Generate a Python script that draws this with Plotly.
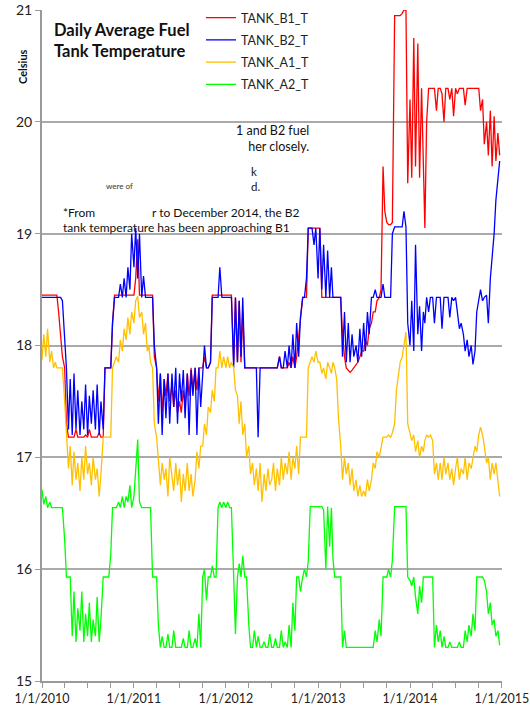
import plotly.graph_objects as go

# ---------------- data (4 readings per month: days 1, 8, 16, 23) ----------------
YEARS = [2010, 2011, 2012, 2013, 2014]
SAMPLE_DAYS = [1, 8, 16, 23]

TANK_B1_T = [
    # 2010
    18.45, 18.45, 18.45, 18.45,  18.45, 18.45, 18.45, 18.45,  18.45, 18.3, 18.1, 17.9,
    17.8, 17.3, 17.18, 17.18,  17.18, 17.18, 17.25, 17.18,  17.18, 17.18, 17.18, 17.2,
    17.18, 17.25, 17.18, 17.18,  17.18, 17.18, 17.22, 17.18,  17.18, 17.8, 17.8, 17.8,
    17.8, 18.2, 18.45, 18.45,  18.45, 18.45, 18.45, 18.45,  18.45, 18.45, 18.45, 18.45,
    # 2011
    18.45, 18.6, 18.95, 18.45,  18.45, 18.45, 18.45, 18.45,  18.45, 18.45, 18.45, 17.9,
    17.8, 17.5, 17.75, 17.4,  17.7, 17.55, 17.75, 17.5,  17.65, 17.45, 17.6, 17.4,
    17.5, 17.4, 17.6, 17.45,  17.75, 17.55, 17.8, 17.6,  17.8, 17.6, 17.8, 17.8,
    17.8, 17.9, 17.8, 17.8,  17.85, 18.45, 18.45, 18.45,  18.45, 18.45, 18.45, 18.45,
    # 2012
    18.45, 18.45, 18.45, 18.45,  17.85, 18.43, 17.85, 18.4,  17.85, 18.3, 17.8, 17.8,
    17.8, 17.8, 17.8, 17.8,  17.8, 17.8, 17.8, 17.8,  17.8, 17.8, 17.8, 17.8,
    17.8, 17.8, 17.8, 17.8,  17.9, 17.8, 17.8, 17.8,  17.8, 17.85, 17.8, 17.9,
    17.8, 17.9, 18.1, 18.25,  18.43, 18.43, 18.43, 19.05,  19.05, 19.05, 19.05, 19.05,
    # 2013
    19.05, 19.05, 18.43, 18.43,  18.43, 18.43, 18.43, 18.43,  18.43, 18.43, 18.43, 18.43,
    18.43, 18.1, 17.9, 17.8,  17.78, 17.76, 17.78, 17.8,  17.82, 17.85, 17.9, 17.95,
    17.95, 18.05, 18.0, 18.15,  18.2, 18.3, 18.3, 18.4,  18.43, 18.5, 19.6, 19.2,
    19.1, 19.08, 19.08, 19.1,  20.95, 20.95, 20.95, 20.95,  20.97, 21.0, 21.0, 19.45,
    # 2014
    20.2, 19.5, 20.75, 19.6,  20.7, 19.5, 20.3, 19.7,  19.05, 20.0, 20.3, 20.3,
    20.3, 20.3, 20.1, 20.3,  20.3, 20.25, 20.0, 20.3,  20.3, 20.2, 20.3, 20.05,
    20.3, 20.25, 20.3, 20.3,  20.3, 20.15, 20.3, 20.3,  20.3, 20.3, 20.3, 20.3,
    20.3, 20.1, 20.2, 19.8,  20.0, 19.7, 20.1, 19.6,  20.05, 19.65, 19.9, 19.7,
]

TANK_B2_T = [
    # 2010
    18.43, 18.43, 18.43, 18.43,  18.43, 18.43, 18.43, 18.43,  18.43, 18.43, 18.43, 18.4,
    18.1, 17.8, 17.25, 17.7,  17.2, 17.75, 17.25, 17.6,  17.2, 17.5, 17.25, 17.65,
    17.2, 17.55, 17.3, 17.6,  17.25, 17.65, 17.2, 17.5,  17.25, 17.8, 17.8, 17.8,
    17.8, 18.2, 18.43, 18.43,  18.43, 18.55, 18.43, 18.6,  18.43, 18.7, 18.5, 19.0,
    # 2011
    18.7, 19.05, 18.6, 19.0,  18.43, 18.62, 18.43, 18.43,  18.43, 18.43, 18.43, 18.0,
    17.8, 17.3, 17.75, 17.2,  17.7, 17.35, 17.75, 17.3,  17.75, 17.45, 17.8, 17.3,
    17.75, 17.5, 17.78, 17.35,  17.75, 17.2, 17.78, 17.55,  17.8, 17.2, 17.8, 17.45,
    17.8, 18.0, 17.8, 17.8,  17.85, 18.43, 18.43, 18.43,  18.43, 18.7, 18.43, 18.43,
    # 2012
    18.43, 18.43, 18.43, 18.43,  17.8, 18.43, 17.85, 18.4,  17.9, 18.43, 17.8, 17.8,
    17.8, 17.8, 17.8, 17.8,  17.8, 17.18, 17.8, 17.8,  17.8, 17.8, 17.8, 17.8,
    17.8, 17.8, 17.8, 17.8,  17.9, 17.8, 17.8, 17.95,  17.8, 18.0, 17.8, 18.1,
    17.8, 18.2, 17.9, 18.25,  18.43, 18.43, 18.6, 19.05,  19.05, 19.05, 18.9, 19.05,
    # 2013
    18.6, 19.05, 18.5, 18.9,  18.43, 18.85, 18.43, 18.7,  18.43, 18.43, 18.43, 18.43,
    18.43, 17.9, 18.3, 17.85,  18.2, 17.85, 18.1, 17.9,  18.0, 17.85, 18.15, 17.9,
    18.2, 17.95, 18.3, 18.1,  18.43, 18.43, 18.5, 18.43,  18.43, 18.43, 18.55, 18.43,
    18.43, 18.43, 18.43, 19.0,  19.06, 19.06, 19.06, 19.06,  19.06, 19.2, 19.06, 18.2,
    # 2014
    18.0, 18.4, 17.95, 18.9,  18.1, 18.35, 17.95, 18.3,  18.2, 18.43, 18.3, 18.43,
    18.43, 18.2, 18.43, 18.43,  18.43, 18.15, 18.43, 18.43,  18.43, 18.25, 18.43, 18.4,
    18.43, 18.3, 18.15, 18.2,  18.1, 17.95, 18.05, 17.9,  18.0, 17.83, 17.95, 18.3,
    18.43, 18.5, 18.4, 18.43,  18.45, 18.2, 18.6, 18.8,  19.0, 19.3, 19.5, 19.65,
]

TANK_A1_T = [
    # 2010
    17.87, 18.1, 17.9, 18.15,  17.85, 17.95, 17.8, 17.85,  17.8, 17.8, 17.8, 17.8,
    17.5, 17.18, 16.9, 17.1,  16.75, 17.05, 16.8, 16.95,  16.7, 17.0, 16.8, 17.1,
    16.85, 16.95, 16.75, 17.0,  16.8, 16.9, 16.65, 16.85,  17.18, 17.18, 17.18, 17.18,
    17.18, 17.8, 17.85, 17.9,  17.85, 18.05, 17.95, 18.15,  18.05, 18.25, 18.1, 18.3,
    # 2011
    18.2, 18.4, 18.44, 18.25,  18.3, 18.1, 18.2, 17.95,  18.0, 17.85, 17.8, 17.3,
    17.18, 17.0, 16.75, 16.95,  16.8, 16.9, 16.65, 17.0,  16.85, 16.7, 16.95, 16.75,
    16.9, 16.6, 16.85, 16.7,  16.95, 16.7, 16.85, 16.65,  16.8, 17.05, 16.9, 17.1,
    17.1, 17.3, 17.2, 17.45,  17.4, 17.6, 17.5, 17.8,  17.8, 17.95, 17.8, 17.9,
    # 2012
    17.8, 17.9, 17.8, 17.85,  17.8, 17.6, 17.55, 17.3,  17.5, 17.2, 17.3, 17.0,
    17.1, 16.85, 16.95, 16.75,  16.9, 16.7, 16.95, 16.6,  16.85, 16.7, 16.9, 16.75,
    16.8, 16.95, 16.7, 16.9,  16.75, 17.0, 16.8, 16.95,  16.85, 17.05, 16.8, 17.0,
    16.9, 17.1, 16.85, 17.18,  17.18, 17.18, 17.18, 17.8,  17.85, 17.9, 17.85, 17.95,
    # 2013
    17.85, 17.85, 17.75, 17.8,  17.7, 17.85, 17.8, 17.75,  17.85, 17.8, 17.7, 17.35,
    17.1, 16.8, 17.0, 16.85,  16.95, 16.75, 16.9, 16.7,  16.8, 16.65, 16.75, 16.65,
    16.7, 16.65, 16.8, 16.7,  16.8, 16.95, 16.9, 17.05,  17.0, 17.1, 17.18, 17.18,
    17.18, 17.2, 17.18, 17.22,  17.3, 17.6, 17.75, 17.85,  17.9, 18.0, 18.12, 17.3,
    # 2014
    17.2, 17.15, 17.2, 17.05,  17.15, 17.0, 17.1, 17.05,  17.15, 17.2, 17.18, 17.2,
    17.15, 16.85, 16.95, 16.8,  16.95, 16.8, 17.0, 16.85,  16.95, 16.8, 16.9, 16.75,
    16.9, 17.0, 16.8, 16.9,  16.85, 17.0, 16.8, 16.95,  16.9, 17.0, 17.1, 17.05,
    17.2, 17.27, 17.2, 17.1,  16.95, 17.0, 16.8, 16.95,  16.85, 16.95, 16.75, 16.65,
]

TANK_A2_T = [
    # 2010
    16.71, 16.58, 16.65, 16.55,  16.6, 16.55, 16.55, 16.55,  16.55, 16.55, 16.55, 16.55,
    16.26, 15.93, 15.93, 15.93,  15.4, 15.8, 15.35, 15.65,  15.45, 15.8, 15.35, 15.6,
    15.4, 15.7, 15.35, 15.55,  15.4, 15.75, 15.35, 15.55,  15.93, 15.93, 15.93, 15.93,
    16.13, 16.55, 16.55, 16.55,  16.6, 16.55, 16.65, 16.55,  16.65, 16.6, 16.75, 16.55,
    # 2011
    16.65, 16.9, 17.16, 16.6,  16.55, 16.55, 16.55, 16.55,  16.55, 16.55, 15.93, 15.93,
    15.93, 15.5, 15.3, 15.4,  15.3, 15.3, 15.42, 15.3,  15.3, 15.45, 15.3, 15.3,
    15.3, 15.3, 15.38, 15.3,  15.3, 15.45, 15.3, 15.3,  15.38, 15.3, 15.6, 15.3,
    15.93, 16.0, 15.72, 15.93,  15.93, 16.03, 15.93, 15.93,  16.55, 16.6, 16.55, 16.6,
    # 2012
    16.55, 16.6, 16.55, 16.55,  15.93, 15.42, 15.93, 16.05,  15.93, 16.12, 15.93, 15.93,
    15.5, 15.3, 15.3, 15.45,  15.3, 15.4, 15.3, 15.3,  15.35, 15.3, 15.3, 15.42,
    15.3, 15.3, 15.38, 15.3,  15.3, 15.45, 15.3, 15.35,  15.3, 15.5, 15.3, 15.7,
    15.45, 15.93, 15.93, 15.8,  15.93, 16.0, 15.93, 16.07,  16.56, 16.56, 16.56, 16.56,
    # 2013
    16.56, 16.56, 16.56, 16.53,  16.0, 16.56, 16.2, 16.55,  16.1, 15.93, 15.93, 15.93,
    15.93, 15.3, 15.45, 15.3,  15.3, 15.3, 15.3, 15.3,  15.3, 15.3, 15.3, 15.3,
    15.3, 15.3, 15.3, 15.3,  15.3, 15.3, 15.45, 15.35,  15.55, 15.4, 15.93, 15.93,
    15.93, 16.0, 15.93, 16.08,  16.56, 16.56, 16.56, 16.56,  16.56, 16.56, 16.56, 15.93,
    # 2014
    15.9, 15.85, 15.93, 15.75,  15.6, 15.85, 15.7, 15.93,  15.93, 15.93, 15.93, 15.93,
    15.93, 15.3, 15.5, 15.35,  15.45, 15.3, 15.4, 15.3,  15.3, 15.35, 15.3, 15.3,
    15.3, 15.3, 15.35, 15.3,  15.3, 15.45, 15.35, 15.5,  15.4, 15.6, 15.45, 15.93,
    15.93, 15.93, 15.93, 15.9,  15.8, 15.6, 15.7, 15.5,  15.55, 15.4, 15.45, 15.32,
]

SERIES_NAMES = ["TANK_B1_T", "TANK_B2_T", "TANK_A1_T", "TANK_A2_T"]
SERIES_VALUES = [TANK_B1_T, TANK_B2_T, TANK_A1_T, TANK_A2_T]
SERIES_COLORS = ["#ff0000", "#0000ff", "#ffc000", "#00ff00"]

dates = [f"{y}-{m:02d}-{d:02d}" for y in YEARS for m in range(1, 13) for d in SAMPLE_DAYS]

# ---------------- layout helpers (pixel -> paper) ----------------
W, H = 530, 709
ML, MR, MT, MB = 42, 28, 10, 28
PW, PH = W - ML - MR, H - MT - MB


def px(x):
    return (x - ML) / PW


def py(y):
    return (H - MB - y) / PH


FONT = "Lato, 'Open Sans', sans-serif"

fig = go.Figure()
for name, vals, col in zip(SERIES_NAMES, SERIES_VALUES, SERIES_COLORS):
    fig.add_trace(go.Scatter(x=dates, y=vals, mode="lines", name=name, legendgroup=name,
                             line=dict(color=col, width=1.3)))

annotations = [
    dict(text="<b>Daily Average Fuel<br>Tank Temperature</b>", x=px(53), y=py(19),
         xanchor="left", yanchor="top", align="left",
         font=dict(size=16.5, color="#111", family=FONT)),
    dict(text="<b>Celsius</b>", x=px(22), y=py(67), textangle=-90,
         xanchor="center", yanchor="middle",
         font=dict(size=11, color="#111", family=FONT)),
    dict(text="1 and B2 fuel<br>her closely.", x=px(310), y=py(138), xanchor="right",
         align="right", font=dict(size=12.5, color="#111", family=FONT)),
    dict(text="k<br>d.", x=px(250), y=py(179), xanchor="left", align="left",
         font=dict(size=11.5, color="#111", family=FONT)),
    dict(text="were of", x=px(105), y=py(186), xanchor="left",
         font=dict(size=8, color="#333", family=FONT)),
    dict(text="*From", x=px(62), y=py(212), xanchor="left"),
    dict(text="r to December 2014, the B2", x=px(151), y=py(212), xanchor="left"),
    dict(text="tank temperature has been approaching B1", x=px(62), y=py(227), xanchor="left"),
]
for a in annotations:
    a.setdefault("font", dict(size=12, color="#111", family=FONT))
    a.setdefault("yanchor", "middle")
    a.update(xref="paper", yref="paper", showarrow=False, borderpad=0)

fig.update_layout(
    width=W, height=H,
    margin=dict(l=ML, r=MR, t=MT, b=MB, autoexpand=False),
    paper_bgcolor="white", plot_bgcolor="white",
    font=dict(family=FONT, color="#333"),
    annotations=annotations,
    legend=dict(x=px(201), y=py(3), xanchor="left", yanchor="top",
                bgcolor="rgba(0,0,0,0)", font=dict(size=12.5, color="#222", family=FONT),
                tracegroupgap=3, itemwidth=30),
    showlegend=True,
)
fig.update_xaxes(
    type="date", range=["2010-01-01", "2015-01-01 06:00"], automargin=False,
    tick0="2010-01-01", dtick="M12", tickformat="%-m/%-d/%Y",
    ticklabeloverflow="allow",
    ticks="outside", ticklen=5, tickcolor="#999", tickwidth=1,
    minor=dict(ticks="outside", dtick="M3", ticklen=5, tickcolor="#999"),
    showline=True, linecolor="#999", linewidth=2, showgrid=False,
    tickfont=dict(size=12.5, color="#222", family=FONT), zeroline=False,
)
fig.update_yaxes(
    range=[15, 21], dtick=1, tick0=15, automargin=False,
    ticks="outside", ticklen=5, tickcolor="#999",
    showline=True, linecolor="#999", linewidth=2,
    showgrid=True, gridcolor="#aaaaaa", gridwidth=2,
    tickfont=dict(size=14, color="#222", family=FONT), zeroline=False,
)

fig.write_html("out.html")
